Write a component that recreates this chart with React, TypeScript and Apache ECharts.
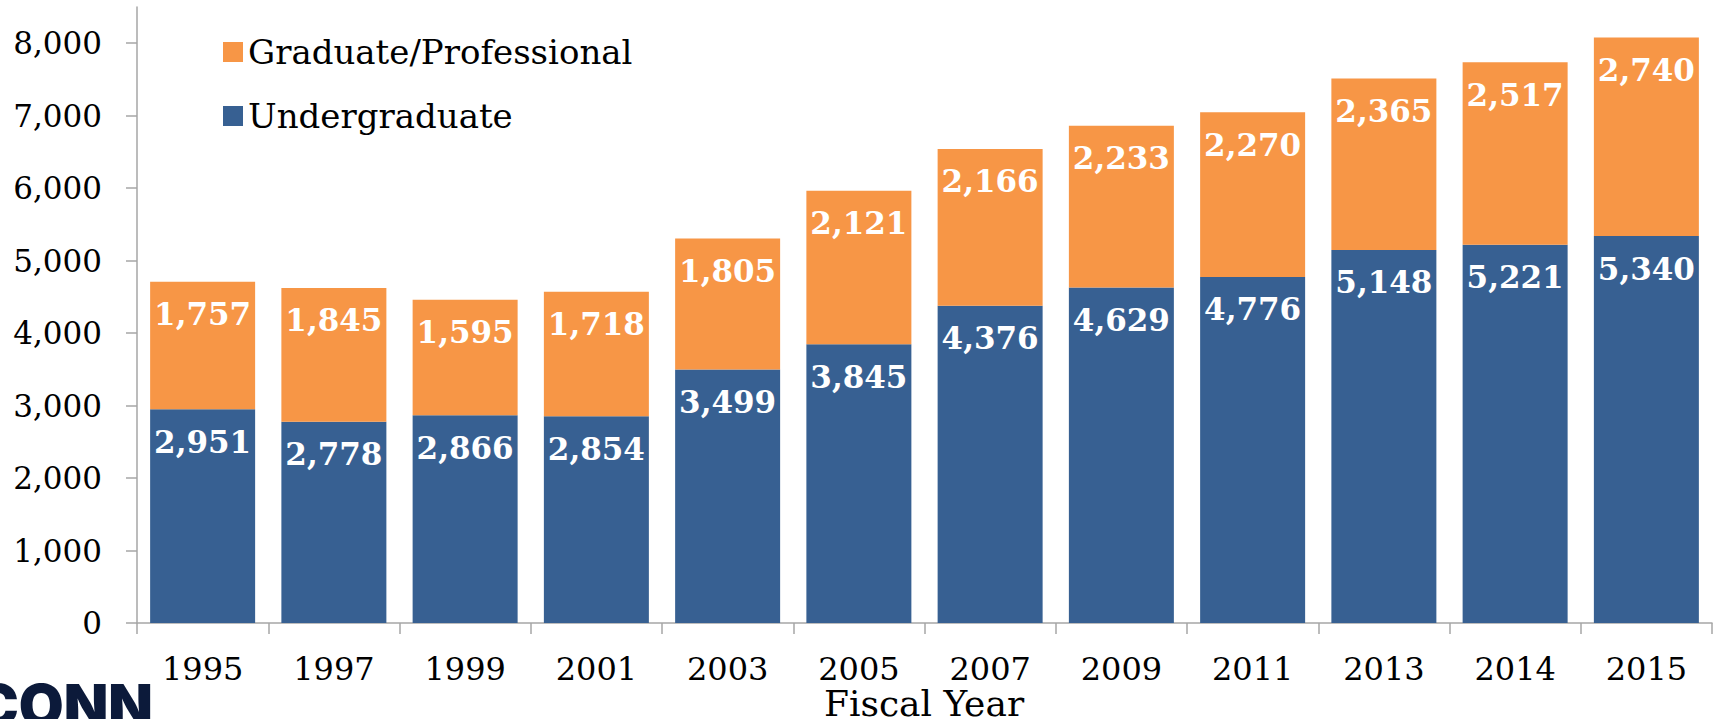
import React, { useEffect, useRef } from "react";
import * as echarts from "echarts";

const years = ["1995", "1997", "1999", "2001", "2003", "2005", "2007", "2009", "2011", "2013", "2014", "2015"];
const undergraduate = [2951, 2778, 2866, 2854, 3499, 3845, 4376, 4629, 4776, 5148, 5221, 5340];
const graduate = [1757, 1845, 1595, 1718, 1805, 2121, 2166, 2233, 2270, 2365, 2517, 2740];
const yTicks = [0, 1000, 2000, 3000, 4000, 5000, 6000, 7000, 8000];
const xAxisTitle = "Fiscal Year";
const logoText = "UCONN";

const SERIF = "'DejaVu Serif', serif";
const fmt = (v: number) => v.toLocaleString("en-US");

export default function App() {
  const ref = useRef<HTMLDivElement>(null);
  useEffect(() => {
    document.body.style.margin = "0";
    const chart = echarts.init(ref.current!, null, { renderer: "svg" });
    const labelStyle = {
      show: true,
      position: "insideTop" as const,
      distance: 17,
      color: "#ffffff",
      fontFamily: SERIF,
      fontWeight: "bold" as const,
      fontSize: 31,
      formatter: (p: any) => fmt(p.value),
    };
    chart.setOption({
      animation: false,
      backgroundColor: "#ffffff",
      grid: { left: 137, right: 5, top: 7, bottom: 96, containLabel: false },
      legend: {
        data: ["Graduate/Professional", "Undergraduate"],
        orient: "vertical",
        left: 218,
        top: 30,
        itemWidth: 20,
        itemHeight: 20,
        itemGap: 30,
        icon: "rect",
        textStyle: { fontFamily: SERIF, fontSize: 34, color: "#000000", padding: [0, 0, 0, 0] },
      },
      xAxis: {
        type: "category",
        data: years,
        axisLine: { lineStyle: { color: "#a6a6a6", width: 1.5 } },
        axisTick: { show: true, length: 11, lineStyle: { color: "#a6a6a6", width: 1.5 } },
        axisLabel: { fontFamily: SERIF, fontSize: 32, lineHeight: 30, color: "#000000", margin: 31 },
      },
      yAxis: {
        type: "value",
        min: 0,
        max: 8500,
        interval: 1000,
        splitLine: { show: false },
        axisLine: { show: true, lineStyle: { color: "#a6a6a6", width: 1.5 } },
        axisTick: { show: true, length: 11, customValues: yTicks, lineStyle: { color: "#a6a6a6", width: 1.5 } },
        axisLabel: {
          fontFamily: SERIF,
          fontSize: 31,
          color: "#000000",
          margin: 35,
          customValues: yTicks,
          formatter: (v: number) => fmt(v),
        },
      },
      series: [
        {
          name: "Undergraduate",
          type: "bar",
          stack: "total",
          data: undergraduate,
          barCategoryGap: "20%",
          itemStyle: { color: "#376092" },
          label: labelStyle,
        },
        {
          name: "Graduate/Professional",
          type: "bar",
          stack: "total",
          data: graduate,
          barCategoryGap: "20%",
          itemStyle: { color: "#F79646" },
          label: labelStyle,
        },
      ],
      graphic: [
        {
          type: "text",
          x: 924,
          y: 717,
          style: {
            text: xAxisTitle,
            fontFamily: SERIF,
            fontSize: 36,
            lineHeight: 28,
            fill: "#000000",
            textAlign: "center",
            textVerticalAlign: "bottom",
          },
        },
        {
          type: "text",
          x: 153,
          y: 676,
          style: {
            text: logoText,
            fontFamily: "Inter, 'Open Sans', sans-serif",
            fontWeight: 900,
            fontSize: 58,
            fill: "#0c1a3a",
            textAlign: "right",
            textVerticalAlign: "top",
          },
        },
      ],
    });
    return () => chart.dispose();
  }, []);
  return <div ref={ref} style={{ width: 1717, height: 719 }} />;
}
